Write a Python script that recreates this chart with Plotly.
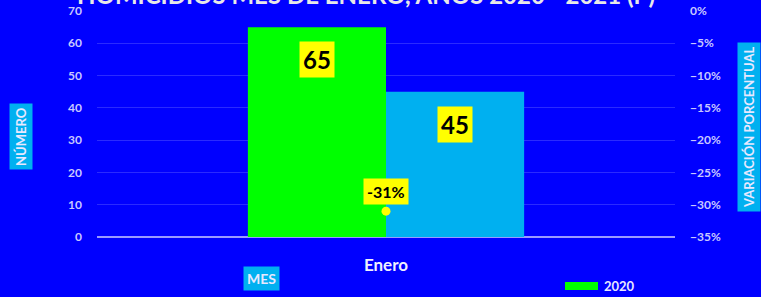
import plotly.graph_objects as go

categories = ["Enero"]
series_2020 = [65]
series_2021 = [45]
variacion = [-0.31]
left_ticks = [0, 10, 20, 30, 40, 50, 60, 70]
right_ticks = [0, -0.05, -0.10, -0.15, -0.20, -0.25, -0.30, -0.35]

BG = "#0000FF"
GREEN = "#00FF00"
CYAN = "#00B0F0"
TICK = "#C8C8FF"
FONT = "Lato, Open Sans, sans-serif"

W, H = 761, 297
L, R, T, B = 97, 86, 11, 60
pw, ph = W - L - R, H - T - B


def px_x(x):
    return (x - L) / pw


def px_y(y):
    return (H - B - y) / ph


fig = go.Figure()
fig.add_trace(go.Bar(x=categories, y=series_2020, name="2020", marker_color=GREEN,
                     marker_line_width=0))
fig.add_trace(go.Bar(x=categories, y=series_2021, name="2021", marker_color=CYAN,
                     marker_line_width=0))
fig.add_trace(go.Scatter(x=categories, y=variacion, name="Variación", yaxis="y2",
                         mode="markers", marker=dict(color="#FFFF00", size=9)))

ann = []
for val, shift in [(series_2020[0], -69), (series_2021[0], 69)]:
    ann.append(dict(x=categories[0], y=val, xref="x", yref="y", xshift=shift, yshift=-14,
                    yanchor="top", text=f"<b>{val}</b>", showarrow=False,
                    font=dict(size=24, color="black", family=FONT), bgcolor="#FFFF00",
                    borderpad=3))
ann.append(dict(x=categories[0], y=variacion[0], xref="x", yref="y2", yshift=6,
                yanchor="bottom", text=f"<b>{variacion[0]*100:.0f}%</b>", showarrow=False,
                font=dict(size=16, color="black", family=FONT), bgcolor="#FFFF00",
                borderpad=3))
# axis titles
ann.append(dict(x=px_x(21), y=px_y(137), xref="paper", yref="paper", text="<b>NÚMERO</b>",
                textangle=-90, showarrow=False, xanchor="center", yanchor="middle",
                font=dict(size=13, color="#E8E8FF", family=FONT), bgcolor=CYAN, borderpad=3))
ann.append(dict(x=px_x(749), y=px_y(127), xref="paper", yref="paper",
                text="<b>VARIACIÓN PORCENTUAL</b>", textangle=-90, showarrow=False,
                xanchor="center", yanchor="middle",
                font=dict(size=13, color="#E8E8FF", family=FONT), bgcolor=CYAN, borderpad=3))
ann.append(dict(x=px_x(261), y=px_y(278), xref="paper", yref="paper", text="<b>MES</b>",
                showarrow=False, xanchor="center", yanchor="middle",
                font=dict(size=14, color="#E8E8FF", family=FONT), bgcolor=CYAN, borderpad=3))
# legend (drawn manually so it does not push the margins)
ann.append(dict(x=px_x(602), y=px_y(286), xref="paper", yref="paper", text="<b>2020</b>",
                showarrow=False, xanchor="left", yanchor="middle",
                font=dict(size=13, color="#E8E8FF", family=FONT)))
# clipped title
ann.append(dict(x=px_x(366), y=px_y(-6), xref="paper", yref="paper",
                text="<b>HOMICIDIOS MES DE ENERO, AÑOS 2020 - 2021 (P)</b>",
                showarrow=False, xanchor="center", yanchor="middle",
                font=dict(size=24, color="#E8E8E8", family=FONT)))

shapes = [dict(type="rect", xref="paper", yref="paper", x0=px_x(565), x1=px_x(598),
               y0=px_y(290), y1=px_y(282), fillcolor=GREEN, line_width=0)]

fig.update_layout(
    width=W, height=H,
    margin=dict(l=L, r=R, t=T, b=B, autoexpand=False),
    paper_bgcolor=BG, plot_bgcolor=BG,
    barmode="group", bargap=0.522, bargroupgap=0,
    font=dict(family=FONT, color=TICK),
    showlegend=False,
    xaxis=dict(showgrid=False, showline=False, ticks="", automargin=False,
               tickfont=dict(size=17, color="#F0F0FF", family=FONT, weight="bold"),
               ticklabelstandoff=16),
    yaxis=dict(range=[0, 70], tickvals=left_ticks, showgrid=True, gridcolor="#2A2AFF",
               gridwidth=1, zeroline=True, zerolinecolor="#9A9AFF", zerolinewidth=1.5,
               automargin=False,
               tickfont=dict(size=12, color=TICK, family=FONT, weight="bold"),
               ticklabelstandoff=14, tickformat="d"),
    yaxis2=dict(range=[-0.35, 0], tickvals=right_ticks, overlaying="y", side="right",
                showgrid=False, zeroline=False, tickformat=".0%", automargin=False,
                tickfont=dict(size=12, color=TICK, family=FONT, weight="bold"),
                ticklabelstandoff=14),
    annotations=ann,
    shapes=shapes,
)

fig.write_html("out.html", config={"displayModeBar": False},
               post_script="document.body.style.margin='0';document.body.style.background='#0000FF';")
